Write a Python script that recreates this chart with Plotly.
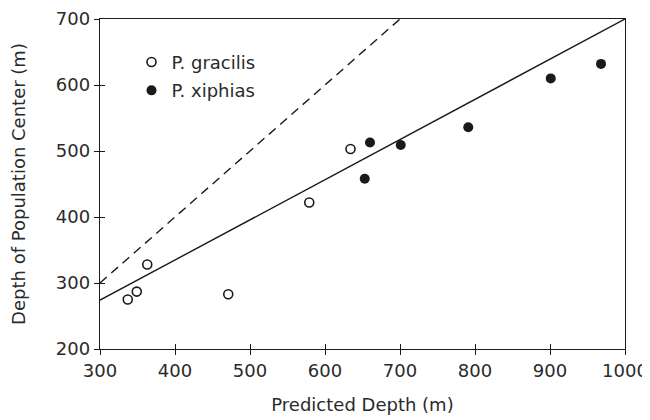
import plotly.graph_objects as go

# P. gracilis (open circles)
gracilis_x = [337, 349, 363, 471, 579, 634]
gracilis_y = [275, 287, 328, 283, 422, 503]

# P. xiphias (filled circles)
xiphias_x = [653, 660, 701, 791, 901, 968]
xiphias_y = [458, 513, 509, 536, 610, 632]

# regression line and 1:1 line
fit_x = [300, 1000]
fit_y = [274, 700]
one_x = [300, 700]
one_y = [300, 700]

ink = "#1a1a1a"
font = dict(family="DejaVu Sans", size=18, color="#2a2a2a")

fig = go.Figure()
fig.add_trace(go.Scatter(x=one_x, y=one_y, mode="lines", showlegend=False,
                         line=dict(color=ink, width=1.4, dash="9px,6px")))
fig.add_trace(go.Scatter(x=fit_x, y=fit_y, mode="lines", showlegend=False,
                         line=dict(color=ink, width=1.4)))
fig.add_trace(go.Scatter(x=gracilis_x, y=gracilis_y, mode="markers", name="P. gracilis",
                         legendgroup="a",
                         marker=dict(symbol="circle-open", size=9, color=ink, line=dict(width=1.6))))
fig.add_trace(go.Scatter(x=xiphias_x, y=xiphias_y, mode="markers", name="P. xiphias",
                         legendgroup="b",
                         marker=dict(symbol="circle", size=10, color=ink)))
# invisible copy on the overlay axes so their inner tick marks get drawn
fig.add_trace(go.Scatter(x=fit_x, y=fit_y, xaxis="x2", yaxis="y2", mode="lines",
                         showlegend=False, hoverinfo="skip", line=dict(width=0), opacity=0))

axis = dict(showgrid=False, zeroline=False, showline=True, linecolor=ink, linewidth=1.4,
            mirror=True, ticks="outside", ticklen=5, tickwidth=1.2, tickcolor=ink,
            dtick=100, tickfont=font, automargin=False)
inner = dict(ticks="inside", ticklen=5, tickwidth=1.2, tickcolor=ink, dtick=100,
             showticklabels=False, showgrid=False, zeroline=False, showline=False,
             automargin=False)
# page body has an 8px default margin, so the margins are trimmed by 8px
fig.update_layout(
    width=650, height=420,
    margin=dict(l=92, r=33, t=11, b=79),
    plot_bgcolor="white", paper_bgcolor="white",
    font=font,
    xaxis=dict(axis, range=[300, 1000], tick0=300,
               title=dict(text="Predicted Depth (m)", font=font, standoff=18)),
    yaxis=dict(axis, range=[200, 700], tick0=200,
               title=dict(text="Depth of Population Center (m)", font=font, standoff=26)),
    xaxis2=dict(inner, overlaying="x", anchor="y2", side="bottom", range=[300, 1000], tick0=300),
    yaxis2=dict(inner, overlaying="y", anchor="x2", side="left", range=[200, 700], tick0=200),
    legend=dict(x=0.06, y=0.925, xanchor="left", yanchor="top", bgcolor="rgba(0,0,0,0)",
                tracegroupgap=2, font=font),
)

fig.write_html("out.html")
